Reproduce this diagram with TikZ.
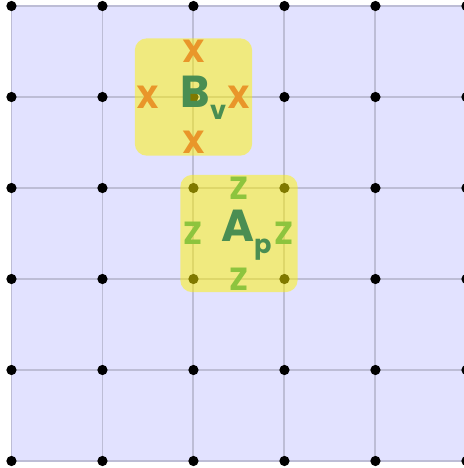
\documentclass[tikz,border=0pt]{standalone}
\usepackage{fontspec}
\setmainfont{Poppins}
\usetikzlibrary{positioning}
\definecolor{lav}{HTML}{E2E2FF}
\definecolor{gridc}{HTML}{BDBDD6}
\definecolor{leaf}{HTML}{4A8E52}
\definecolor{lime}{HTML}{8DC43E}
\definecolor{amber}{HTML}{E9962A}

\begin{document}
\begin{tikzpicture}[every node/.style={font=\bfseries,inner sep=0pt}, cell/.style={fill=yellow,opacity=0.5,rounded corners=3.8pt,minimum size=1.29cm}, dot/.style={circle,fill=black,minimum size=3.2pt}, cross/.style={text=amber,font=\fontsize{10}{10}\selectfont\bfseries}, zed/.style={text=lime,font=\fontsize{10}{10}\selectfont\bfseries}, lbl/.style={text=leaf,font=\fontsize{14}{14}\selectfont\bfseries}]
\useasboundingbox (-0.126,-0.077) rectangle (4.973,5.066);
\begin{scope}
\clip (-0.126,-0.077) rectangle (4.973,5.066);
\fill[lav] (0,0) rectangle (5,5);
\draw[gridc,line width=0.6pt] (0,0) grid (5,5);
\foreach \i in {0,...,5} \foreach \j in {0,...,5} \node[dot] (d\i\j) at (\i,\j) {};
\end{scope}
\node[cell] (bbox) at (2,4) {};
\node[cell] (abox) at (2.5,2.5) {};
% B_v with its four crosses
\node[lbl] (bv) at (2.11,3.99) {B\raisebox{-0.5ex}{\fontsize{8}{8}\selectfont v}};
\node[cross] (bn) at (2,4.5) {X};
\node[cross] (bw) at (1.5,4) {X};
\node[cross] (be) at (2.5,4) {X};
\node[cross] (bs) at (2,3.5) {X};
% A_p with its four z
\node[lbl] (ap) at (2.58,2.48) {A\raisebox{-0.5ex}{\fontsize{8}{8}\selectfont p}};
\node[zed] (an) at (2.5,3) {Z};
\node[zed] (aw) at (2,2.5) {Z};
\node[zed] (ae) at (3,2.5) {Z};
\node[zed] (as) at (2.5,2) {Z};
\end{tikzpicture}
\end{document}
